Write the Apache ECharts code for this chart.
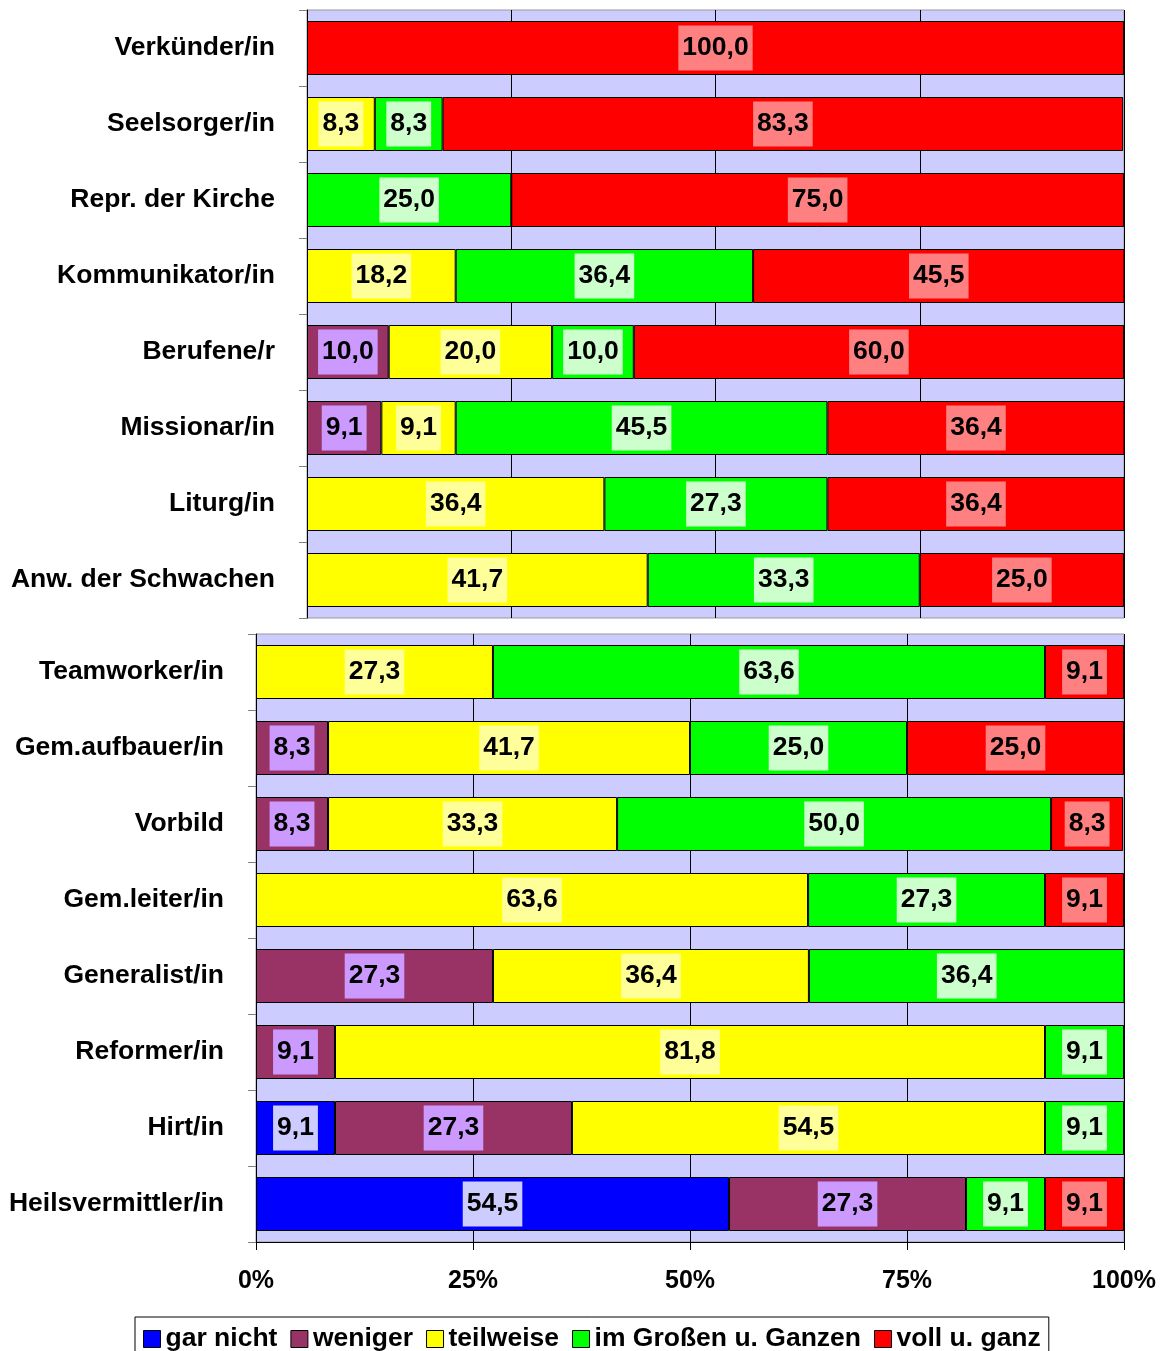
<!DOCTYPE html>
<html>
<head>
<meta charset="utf-8">
<script src="https://cdn.jsdelivr.net/npm/echarts@6/dist/echarts.min.js"></script>
<style>
  html, body { margin: 0; padding: 0; background: #fff; }
  #chart { width: 1166px; height: 1351px; }
</style>
</head>
<body>
<div id="chart"></div>
<script>
// Rollenbilder: Zustimmung in Prozent (gestapelt), zwei Blöcke
const seriesNames = ['gar nicht', 'weniger', 'teilweise', 'im Großen u. Ganzen', 'voll u. ganz'];
const xTicks = [0, 25, 50, 75, 100];

const topCategories = ['Verkünder/in', 'Seelsorger/in', 'Repr. der Kirche', 'Kommunikator/in',
  'Berufene/r', 'Missionar/in', 'Liturg/in', 'Anw. der Schwachen'];
const topGarNicht  = [0, 0, 0, 0, 0, 0, 0, 0];
const topWeniger   = [0, 0, 0, 0, 10.0, 9.1, 0, 0];
const topTeilweise = [0, 8.3, 0, 18.2, 20.0, 9.1, 36.4, 41.7];
const topImGrossen = [0, 8.3, 25.0, 36.4, 10.0, 45.5, 27.3, 33.3];
const topVoll      = [100.0, 83.3, 75.0, 45.5, 60.0, 36.4, 36.4, 25.0];

const bottomCategories = ['Teamworker/in', 'Gem.aufbauer/in', 'Vorbild', 'Gem.leiter/in',
  'Generalist/in', 'Reformer/in', 'Hirt/in', 'Heilsvermittler/in'];
const bottomGarNicht  = [0, 0, 0, 0, 0, 0, 9.1, 54.5];
const bottomWeniger   = [0, 8.3, 8.3, 0, 27.3, 9.1, 27.3, 27.3];
const bottomTeilweise = [27.3, 41.7, 33.3, 63.6, 36.4, 81.8, 54.5, 0];
const bottomImGrossen = [63.6, 25.0, 50.0, 27.3, 36.4, 9.1, 9.1, 9.1];
const bottomVoll      = [9.1, 25.0, 8.3, 9.1, 0, 0, 0, 9.1];

const barColors   = ['#0000FF', '#993366', '#FFFF00', '#00FF00', '#FF0000'];
const labelColors = ['#CCCCFF', '#CC99FF', '#FFFF99', '#CCFFCC', '#FF8080'];

const FONT = 'Liberation Sans, Arial, sans-serif';
const FS = 26.5;
const topValues = [topGarNicht, topWeniger, topTeilweise, topImGrossen, topVoll];
const bottomValues = [bottomGarNicht, bottomWeniger, bottomTeilweise, bottomImGrossen, bottomVoll];

function makeSeries(values, gridIndex, stack) {
  return values.map((arr, i) => ({
    name: seriesNames[i],
    type: 'bar',
    stack: stack,
    xAxisIndex: gridIndex,
    yAxisIndex: gridIndex,
    barWidth: 54,
    data: arr.map(v => (v === 0 ? '-' : v)),
    itemStyle: { color: barColors[i], borderColor: '#000', borderWidth: 1 },
    label: {
      show: true,
      position: 'inside',
      formatter: p => Number(p.value).toFixed(1).replace('.', ','),
      color: '#000',
      fontFamily: FONT,
      fontWeight: 'bold',
      fontSize: FS,
      lineHeight: 26,
      backgroundColor: labelColors[i],
      padding: [12, 4, 7, 4]
    },
    emphasis: { disabled: true },
    animation: false
  }));
}

function yAxisFor(cats, gridIndex) {
  return {
    type: 'category',
    gridIndex: gridIndex,
    data: cats,
    inverse: true,
    axisLine: { show: true, lineStyle: { color: '#000', width: 1 } },
    axisTick: { show: true, length: 8, lineStyle: { color: '#808080', width: 1 } },
    axisLabel: {
      color: '#000', fontFamily: FONT, fontWeight: 'bold', fontSize: FS, margin: 32,
      padding: [5, 0, 0, 0]
    }
  };
}

function xAxisFor(gridIndex, showLabels) {
  return {
    type: 'value',
    gridIndex: gridIndex,
    min: xTicks[0],
    max: xTicks[xTicks.length - 1],
    interval: 25,
    axisLine: { show: showLabels, lineStyle: { color: '#000', width: 1 } },
    axisTick: { show: showLabels, length: 8, lineStyle: { color: '#000' } },
    axisLabel: {
      show: showLabels, color: '#000', fontFamily: FONT, fontWeight: 'bold', fontSize: 25, margin: 27,
      formatter: v => v + '%'
    },
    splitLine: { show: true, lineStyle: { color: '#000', width: 1 } }
  };
}

const chart = echarts.init(document.getElementById('chart'), null, { renderer: 'canvas' });
chart.setOption({
  animation: false,
  backgroundColor: '#fff',
  grid: [
    { left: 307, right: 42, top: 10, height: 608, show: true, backgroundColor: '#CCCCFF', borderColor: '#999', borderWidth: 1, containLabel: false },
    { left: 256, right: 42, top: 634, height: 608, show: true, backgroundColor: '#CCCCFF', borderColor: '#999', borderWidth: 1, containLabel: false }
  ],
  legend: {
    data: seriesNames,
    left: 135,
    top: 1317,
    orient: 'horizontal',
    itemWidth: 17,
    itemHeight: 17,
    itemGap: 13,
    padding: [6, 8, 6, 8],
    borderColor: '#000',
    borderWidth: 1,
    backgroundColor: '#fff',
    icon: 'rect',
    itemStyle: { borderColor: '#000', borderWidth: 1 },
    textStyle: { color: '#000', fontFamily: FONT, fontWeight: 'bold', fontSize: FS, lineHeight: 30, padding: [2, 0, 0, 0] },
    selectedMode: false
  },
  xAxis: [xAxisFor(0, false), xAxisFor(1, true)],
  yAxis: [yAxisFor(topCategories, 0), yAxisFor(bottomCategories, 1)],
  series: makeSeries(topValues, 0, 'oben').concat(makeSeries(bottomValues, 1, 'unten'))
});
</script>
</body>
</html>
